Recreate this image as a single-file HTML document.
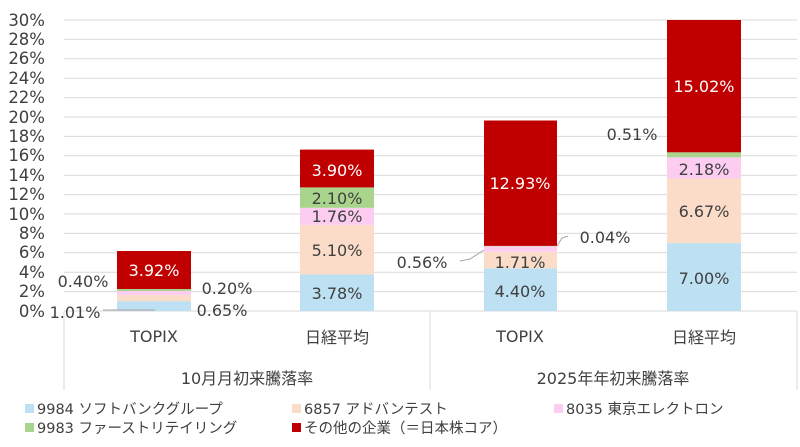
<!DOCTYPE html>
<html><head><meta charset="utf-8"><style>
body{margin:0;background:#fff;}
svg text{font-family:"DejaVu Sans","Noto Sans CJK JP",sans-serif;fill:#404040;}
</style></head><body>
<svg width="800" height="442" viewBox="0 0 800 442" xmlns="http://www.w3.org/2000/svg">
<g stroke="#d9d9d9" stroke-width="1">
<line x1="64" x2="797" y1="291.6" y2="291.6"/><line x1="64" x2="797" y1="272.2" y2="272.2"/>
<line x1="64" x2="797" y1="252.8" y2="252.8"/><line x1="64" x2="797" y1="233.4" y2="233.4"/>
<line x1="64" x2="797" y1="214" y2="214"/><line x1="64" x2="797" y1="194.6" y2="194.6"/>
<line x1="64" x2="797" y1="175.2" y2="175.2"/><line x1="64" x2="797" y1="155.8" y2="155.8"/>
<line x1="64" x2="797" y1="136.4" y2="136.4"/><line x1="64" x2="797" y1="117" y2="117"/>
<line x1="64" x2="797" y1="97.6" y2="97.6"/><line x1="64" x2="797" y1="78.2" y2="78.2"/>
<line x1="64" x2="797" y1="58.8" y2="58.8"/><line x1="64" x2="797" y1="39.4" y2="39.4"/>
<line x1="64" x2="797" y1="20" y2="20"/>
<line x1="64" x2="797" y1="311" y2="311"/>
<line x1="64" x2="64" y1="311" y2="390"/><line x1="430" x2="430" y1="311" y2="390"/><line x1="797" x2="797" y1="311" y2="390"/>
</g>
<g font-size="16.5" text-anchor="end">
<text x="45" y="317">0%</text><text x="45" y="297">2%</text><text x="45" y="278">4%</text><text x="45" y="258">6%</text>
<text x="45" y="239">8%</text><text x="45" y="220">10%</text><text x="45" y="200">12%</text><text x="45" y="181">14%</text>
<text x="45" y="161">16%</text><text x="45" y="142">18%</text><text x="45" y="123">20%</text><text x="45" y="103">22%</text>
<text x="45" y="84">24%</text><text x="45" y="64">26%</text><text x="45" y="45">28%</text><text x="45" y="26">30%</text>
</g>
<rect x="117" y="301.2" width="74" height="9.8" fill="#bde0f2"/>
<rect x="117" y="294.9" width="74" height="6.3" fill="#fbdcc8"/>
<rect x="117" y="291.0" width="74" height="3.9" fill="#fccdf0"/>
<rect x="117" y="289.0" width="74" height="2.0" fill="#a9d48c"/>
<rect x="117" y="251.0" width="74" height="38.0" fill="#c00000"/>
<rect x="300" y="274.3" width="74" height="36.7" fill="#bde0f2"/>
<rect x="300" y="224.9" width="74" height="49.5" fill="#fbdcc8"/>
<rect x="300" y="207.8" width="74" height="17.1" fill="#fccdf0"/>
<rect x="300" y="187.4" width="74" height="20.4" fill="#a9d48c"/>
<rect x="300" y="149.6" width="74" height="37.8" fill="#c00000"/>
<rect x="484" y="268.3" width="73" height="42.7" fill="#bde0f2"/>
<rect x="484" y="251.7" width="73" height="16.6" fill="#fbdcc8"/>
<rect x="484" y="246.3" width="73" height="5.4" fill="#fccdf0"/>
<rect x="484" y="245.9" width="73" height="0.4" fill="#a9d48c"/>
<rect x="484" y="120.5" width="73" height="125.4" fill="#c00000"/>
<rect x="667" y="243.1" width="74" height="67.9" fill="#bde0f2"/>
<rect x="667" y="178.4" width="74" height="64.7" fill="#fbdcc8"/>
<rect x="667" y="157.3" width="74" height="21.1" fill="#fccdf0"/>
<rect x="667" y="152.3" width="74" height="5.0" fill="#a9d48c"/>
<rect x="667" y="20" width="74" height="132.3" fill="#c00000"/>
<g stroke="#a6a6a6" fill="none" stroke-width="1">
<line x1="103" y1="310" x2="155" y2="310"/>
<polyline points="460,261 470,259 484,250"/>
<polyline points="557,246 562,238 568,236"/>
</g>
<g font-size="16" text-anchor="middle">
<text x="154" y="276" style="fill:#fff">3.92%</text>
<text x="83" y="287">0.40%</text><text x="227" y="294">0.20%</text>
<text x="75" y="318">1.01%</text><text x="222" y="316">0.65%</text>
<text x="337" y="176" style="fill:#fff">3.90%</text>
<text x="337" y="204">2.10%</text><text x="337" y="222">1.76%</text>
<text x="337" y="256">5.10%</text><text x="337" y="299">3.78%</text>
<text x="520" y="189" style="fill:#fff">12.93%</text>
<text x="520" y="268">1.71%</text><text x="520" y="297">4.40%</text>
<text x="422" y="268">0.56%</text><text x="605" y="243">0.04%</text>
<text x="704" y="92" style="fill:#fff">15.02%</text>
<text x="632" y="140">0.51%</text>
<text x="704" y="175">2.18%</text><text x="704" y="217">6.67%</text><text x="704" y="284">7.00%</text>
<text x="154" y="342">TOPIX</text><text x="337" y="343">日経平均</text>
<text x="520" y="342">TOPIX</text><text x="704" y="343">日経平均</text>
<text x="247" y="384">10月月初来騰落率</text><text x="613" y="384">2025年年初来騰落率</text>
</g>
<g font-size="14.5">
<rect x="25" y="404" width="9" height="9" fill="#bde0f2"/><text x="37" y="414">9984  ソフトバンクグループ</text>
<rect x="292" y="404" width="9" height="9" fill="#fbdcc8"/><text x="304" y="414">6857  アドバンテスト</text>
<rect x="554" y="404" width="9" height="9" fill="#fccdf0"/><text x="566" y="414">8035  東京エレクトロン</text>
<rect x="25" y="423" width="9" height="9" fill="#a9d48c"/><text x="37" y="433">9983  ファーストリテイリング</text>
<rect x="292" y="423" width="9" height="9" fill="#c00000"/><text x="304" y="433">その他の企業（＝日本株コア）</text>
</g>
</svg>
</body></html>
